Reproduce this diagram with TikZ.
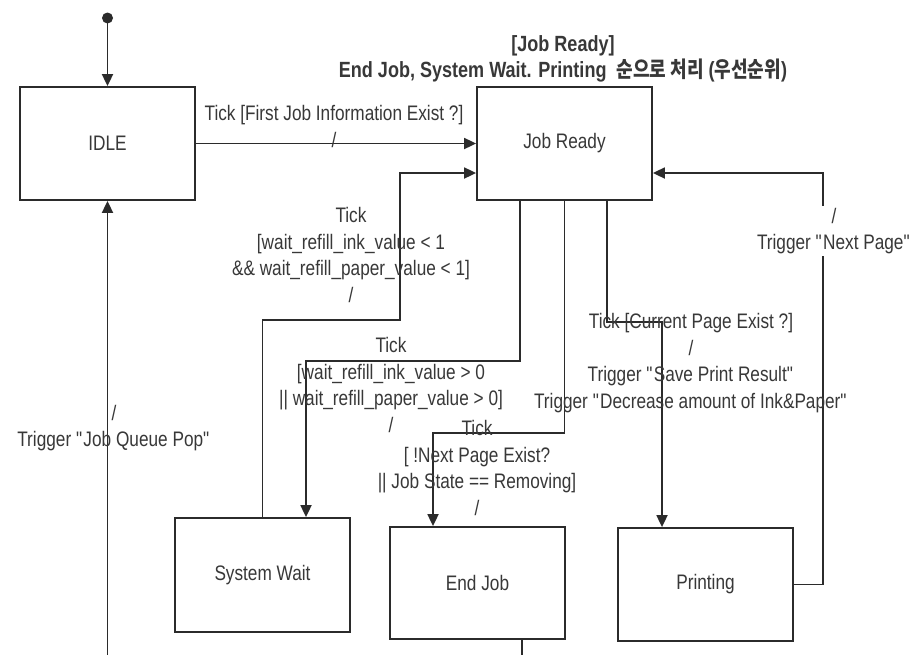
\documentclass[tikz,border=0pt]{standalone}
\usepackage{fontspec}
\setmainfont{Liberation Sans}[FakeStretch=0.82]
\newfontfamily\kr{Noto Sans CJK KR}[FakeStretch=0.82]
\usetikzlibrary{arrows.meta}
\definecolor{ink}{HTML}{2B2B2B}
\definecolor{txt}{HTML}{383838}
\newcommand{\qq}{\textquotedbl}
\tikzset{
  state/.style={draw=ink, line width=1.8pt, fill=white, inner sep=0pt,
    minimum width=175pt, minimum height=113pt, text=txt,
    font=\fontsize{21}{26.5}\selectfont},
  lbl/.style={align=center, inner sep=0pt, text=txt,
    font=\fontsize{21}{26.5}\selectfont},
  conn/.style={draw=ink, line width=1.8pt,
    -{Triangle[length=12pt,width=11pt]}}
}
\begin{document}
\begin{tikzpicture}[x=1pt,y=-1pt]
\useasboundingbox (0,0) rectangle (920,654);
\clip (0,0) rectangle (920,654);
\fill[white] (0,0) rectangle (920,654);

% states
\node[state] (idle) at (107.5,143.5) {IDLE};
\node[state] (jr)   at (564.5,143.5) {Job Ready};
\node[state, minimum height=114pt] (sw) at (262.5,575) {System Wait};
\node[state, minimum height=112pt] (ej) at (477.5,583) {End Job};
\node[state] (pr)   at (705.5,584.5) {Printing};

% initial pseudo-state
\fill[ink] (107.5,18) circle (5.5pt);
\coordinate (init) at (107.5,18);

% bend points of the routed transitions
\coordinate (swup)  at (400,320);
\coordinate (swin)  at (306,361);
\coordinate (ejin)  at (433,433);
\coordinate (prin)  at (662,322);
\coordinate (prout) at (823,173);
\coordinate (ret)   at (107.5,690);

% transitions
\draw[conn] (init) -- (idle.north);
\draw[conn] (idle.east) -- (jr.west);
\draw[conn] (sw.north) |- (swup) |- (jr.west |- prout);
\draw[conn] ([xshift=44pt]jr.south west) |- (swin) -- (swin |- sw.north);
\draw[conn] (jr.south) |- (ejin) -- (ejin |- ej.north);
\draw[conn] ([xshift=131pt]jr.south west) |- (prin) -- (prin |- pr.north);
\draw[conn] (pr.east) -| (prout) -- (prout -| jr.east);
\draw[conn] ([xshift=-44pt]ej.south east) |- (ret) -- (idle.south);

% guard / action labels
\node[lbl, font=\fontsize{22}{25.5}\selectfont\bfseries] (title) at (563,59)
  {{[}Job Ready]\\End Job, System Wait. Printing\ \ {\kr 순으로 처리} ({\kr 우선순위})};
\node[lbl] (l1) at (334,126.5) {Tick {[}First Job Information Exist ?]\\/};
\node[lbl] (l2) at (351,255)
  {Tick\\{[}wait\_refill\_ink\_value < 1\\\&\& wait\_refill\_paper\_value < 1]\\/};
\node[lbl] (l3) at (391,385)
  {Tick\\{[}wait\_refill\_ink\_value > 0\\|| wait\_refill\_paper\_value > 0]\\/};
\node[lbl] (l4) at (477,468)
  {Tick\\{[} !Next Page Exist?\\|| Job State == Removing]\\/};
\node[lbl] (l5) at (691,363)
  {Tick {[}Current Page Exist ?]\\/\\Trigger \qq Save Print Result\qq\\Trigger \qq Decrease amount of Ink\&Paper\qq};
\node[lbl, fill=white, inner ysep=2pt] (l6) at (834,231) {/\\Trigger \qq Next Page\qq};
\node[lbl] (l7) at (114,428) {/\\Trigger \qq Job Queue Pop\qq};
\end{tikzpicture}
\end{document}
